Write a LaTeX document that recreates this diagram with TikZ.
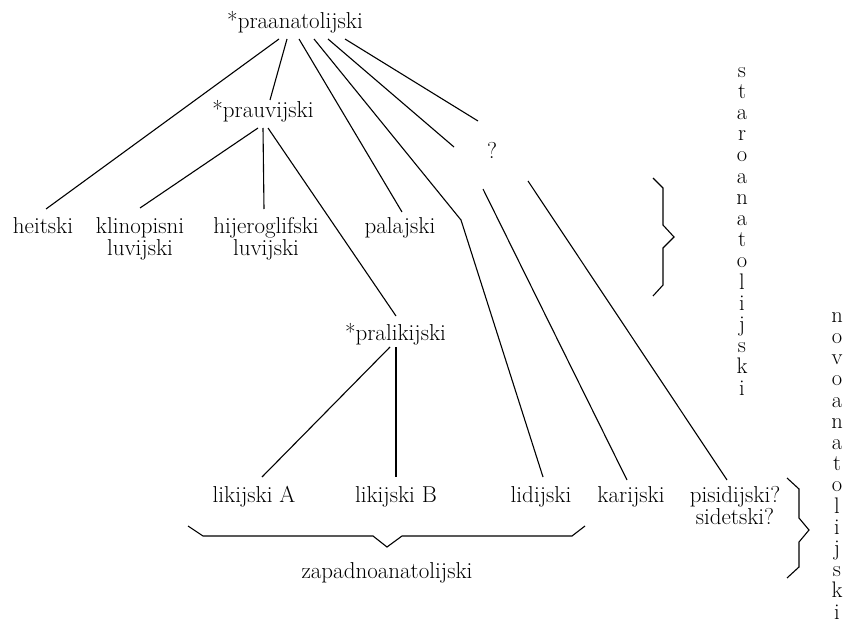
\documentclass[tikz,border=0pt]{standalone}
\begin{document}
\begin{tikzpicture}[x=1pt,y=-1pt,
  lbl/.style={inner sep=0pt,font=\fontsize{23}{22}\selectfont},
  two/.style={lbl,align=center,anchor=north},
  vert/.style={inner sep=0pt,align=center,anchor=north,font=\fontsize{22.5}{21.2}\selectfont},
  conn/.style={line width=1.1pt},
  brace/.style={line width=1.1pt,line join=miter}]
\useasboundingbox (0,0) rectangle (846,623);
% nodes
\node[lbl,anchor=base] (pa) at (295,29) {*praanatolijski};
\node[lbl,anchor=base] (pv) at (263,118) {*prauvijski};
\node[lbl,anchor=base] (q) at (492,159) {?};
\node[lbl,anchor=base] (he) at (43,233) {heitski};
\node[two] (kl) at (140,217) {klinopisni\\luvijski};
\node[two] (hi) at (266,217) {hijeroglifski\\luvijski};
\node[lbl,anchor=base] (pj) at (400,233) {palajski};
\node[lbl,anchor=base] (pl) at (395.5,340) {*pralikijski};
\node[lbl,anchor=base] (la) at (254,502) {likijski A};
\node[lbl,anchor=base] (lb) at (396,502) {likijski B};
\node[lbl,anchor=base] (ld) at (541,502) {lidijski};
\node[lbl,anchor=base] (ka) at (631,502) {karijski};
\node[two] (ps) at (735,486) {pisidijski?\\sidetski?};
\node[lbl,anchor=base] (za) at (387,578) {zapadnoanatolijski};
\node[vert] (st) at (742,67) {s\\t\\a\\r\\o\\a\\n\\a\\t\\o\\l\\i\\j\\s\\k\\i};
\node[vert] (nv) at (837,312.3) {n\\o\\v\\o\\a\\n\\a\\t\\o\\l\\i\\j\\s\\k\\i};
\coordinate (bend) at (461,220);
% connectors from *praanatolijski
\draw[conn] ([shift={(-16,10)}]pa.base) -- ([shift={(3,-24)}]he.base);
\draw[conn] ([shift={(-8,10)}]pa.base) -- ([shift={(7,-18)}]pv.base);
\draw[conn] ([shift={(4,10)}]pa.base) -- ([shift={(2,-21)}]pj.base);
\draw[conn] ([shift={(19,10)}]pa.base) -- (bend) -- ([shift={(2,-25)}]ld.base);
\draw[conn] ([shift={(33,10)}]pa.base) -- ([shift={(-38,-12)}]q.base);
\draw[conn] ([shift={(50,10)}]pa.base) -- ([shift={(-14,-38)}]q.base);
% from ?
\draw[conn] ([shift={(-9,30)}]q.base) -- ([shift={(-4,-22)}]ka.base);
\draw[conn] ([shift={(36,22)}]q.base) -- ([shift={(-8,-6)}]ps.north);
% from *prauvijski
\draw[conn] ([shift={(-5,10)}]pv.base) -- ([shift={(0,-9)}]kl.north);
\draw[conn] ([shift={(0,10)}]pv.base) -- ([shift={(-2,-8)}]hi.north);
\draw[conn] ([shift={(5,10)}]pv.base) -- ([shift={(0.5,-24)}]pl.base);
% from *pralikijski
\draw[conn] ([shift={(-5.5,7)}]pl.base) -- ([shift={(8,-25)}]la.base);
\draw[conn] ([shift={(0.5,7)}]pl.base) -- ([shift={(0,-25)}]lb.base);
% braces
\draw[brace] (653,178) -- (663,188) -- (663,225) -- (674,237) -- (663,248) -- (663,285) -- (653,296);
\draw[brace] (787,478) -- (799,489) -- (799,518) -- (809,530) -- (799,542) -- (799,567) -- (787,578);
\draw[brace] (188,526) -- (203,536) -- (373,536) -- (387,547) -- (402,536) -- (572,536) -- (585,526);
\end{tikzpicture}
\end{document}
